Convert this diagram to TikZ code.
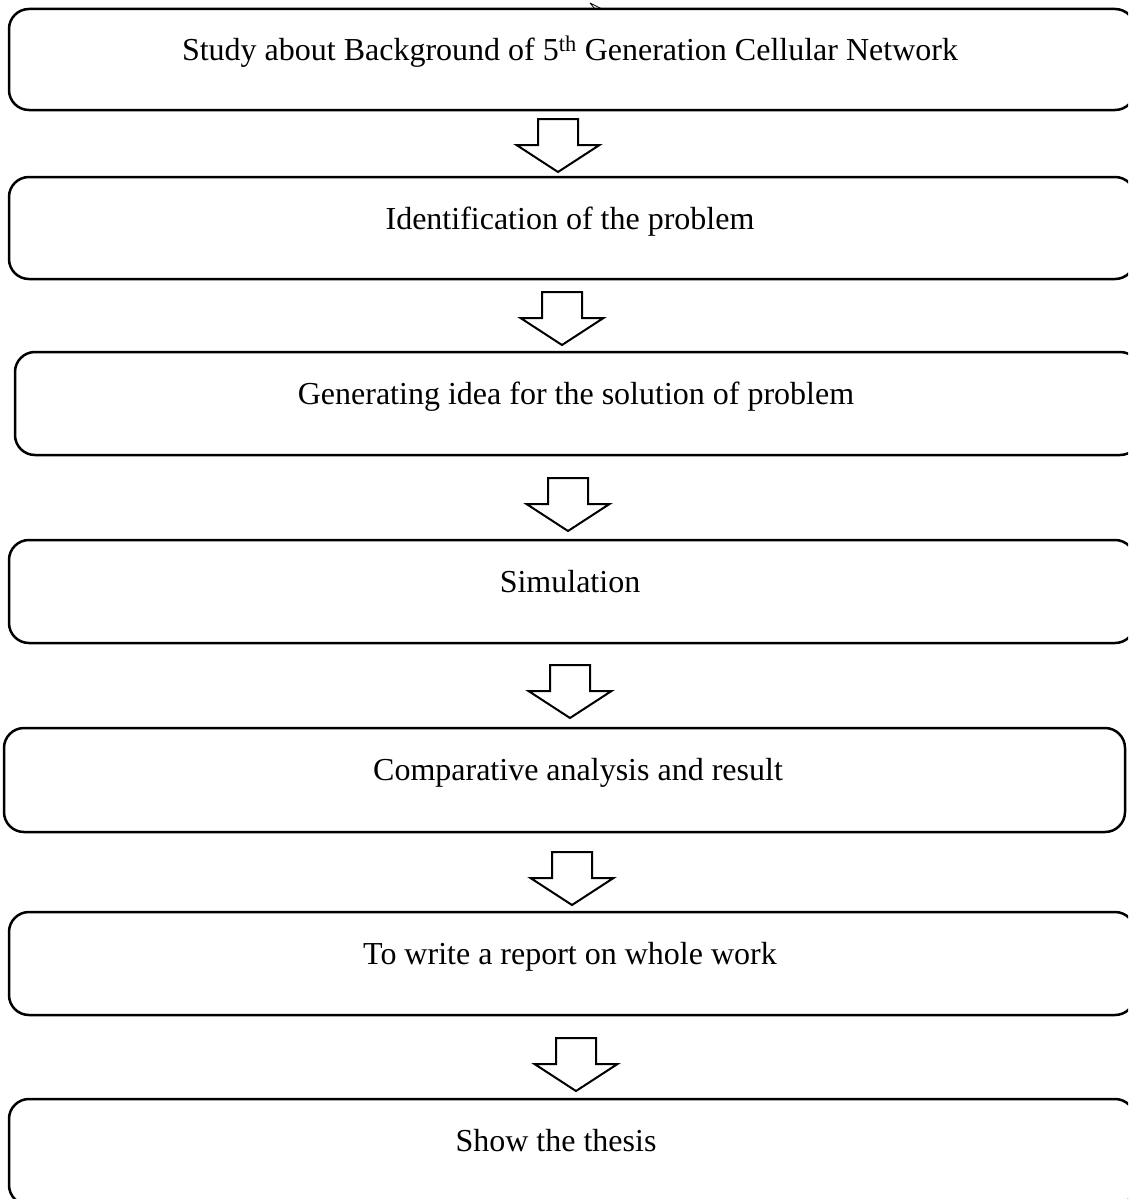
\documentclass[tikz,border=0pt]{standalone}
\usepackage{fontspec}
\setmainfont{Liberation Serif}
\begin{document}
\begin{tikzpicture}[x=1pt,y=-1pt,
  box/.style={draw=black, line width=2.5pt, rounded corners=20pt, inner sep=0pt, outer sep=0pt},
  lbl/.style={anchor=base, inner sep=0pt, font=\fontsize{32}{38}\selectfont},
  blockarrow/.pic={\draw[line width=2pt, line join=miter, fill=white]
      (-20,0) -- (20,0) -- (20,26) -- (41.5,26) -- (0,53) -- (-41.5,26) -- (-20,26) -- cycle;}]
\useasboundingbox (0,0) rectangle (1128,1199);
\clip (0,0) rectangle (1128,1199);
% boxes
\node[box, minimum width=1126pt, minimum height=101pt] (b1) at (572,59.5) {};
\node[box, minimum width=1126pt, minimum height=102pt] (b2) at (572,228) {};
\node[box, minimum width=1125pt, minimum height=103pt] (b3) at (577.5,403.5) {};
\node[box, minimum width=1126pt, minimum height=103pt] (b4) at (572,591.5) {};
\node[box, minimum width=1121pt, minimum height=104pt] (b5) at (564.5,780) {};
\node[box, minimum width=1126pt, minimum height=103pt] (b6) at (572,963.5) {};
\node[box, minimum width=1126pt, minimum height=106pt] (b7) at (572,1152) {};
% labels
\node[lbl] (t1) at (570,61) {Study about Background of 5\textsuperscript{th} Generation Cellular Network};
\node[lbl] (t2) at (570,229) {Identification of the problem};
\node[lbl] (t3) at (576,404) {Generating idea for the solution of problem};
\node[lbl] (t4) at (570,592) {Simulation};
\node[lbl] (t5) at (578,780) {Comparative analysis and result};
\node[lbl] (t6) at (570,964) {To write a report on whole work};
\node[lbl] (t7) at (556,1151) {Show the thesis};
% block arrows
\pic at (558,119) {blockarrow};
\pic at (562,292) {blockarrow};
\pic at (568,478) {blockarrow};
\pic at (570,665) {blockarrow};
\pic at (572,852) {blockarrow};
\pic at (576,1038) {blockarrow};
% small mark at top
\draw[line width=0.8pt] (590,3) -- (602,9) (590,3) -- (595,9);
\end{tikzpicture}
\end{document}
